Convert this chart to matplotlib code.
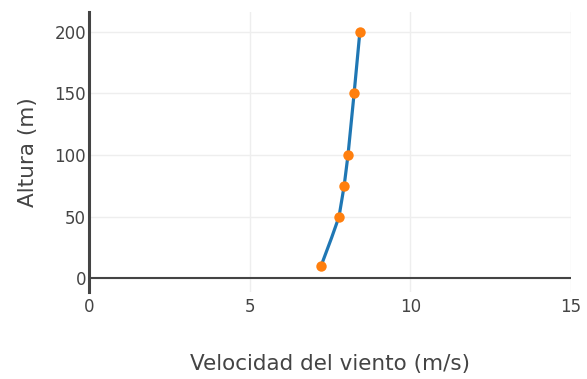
import numpy as np
import matplotlib.pyplot as plt

# datos
alturas = [10, 50, 75, 100, 150, 200]
velocidades = [7.22, 7.78, 7.94, 8.06, 8.25, 8.43]

# perfil (linea)
alturas_perfil = [10, 33, 50, 75, 100, 150, 200]
velocidades_perfil = [7.22, 7.55, 7.78, 7.94, 8.06, 8.25, 8.43]

xticks = [0, 5, 10, 15]
yticks = [0, 50, 100, 150, 200]

plt.rcParams['font.family'] = ['DejaVu Sans']

fig = plt.figure(figsize=(5.87, 3.79), dpi=100)
ax = fig.add_axes([89 / 587, 1 - 292 / 379, 482 / 587, 280 / 379])

ax.plot(velocidades_perfil, alturas_perfil, '-', color='#1f77b4', lw=2.3, zorder=3)
ax.plot(velocidades, alturas, 'o', color='#ff7f0e', ms=7.5, mec='none', zorder=4)

ax.set_xlim(0, 15)
ax.set_ylim(-11, 216)
ax.set_xticks(xticks)
ax.set_yticks(yticks)

ax.grid(True, color='#eeeeee', lw=1)
ax.set_axisbelow(True)
ax.axhline(0, color='#444444', lw=1.5, zorder=2)

for s in ['top', 'right', 'bottom']:
    ax.spines[s].set_visible(False)
ax.spines['left'].set_color('#444444')
ax.spines['left'].set_linewidth(2.2)

ax.tick_params(axis='both', length=0, labelsize=12, colors='#444444')
ax.tick_params(axis='y', pad=2)
ax.tick_params(axis='x', pad=4)

ax.set_xlabel('Velocidad del viento (m/s)', fontsize=15.5, color='#444444', labelpad=28)
ax.set_ylabel('Altura (m)', fontsize=15.5, color='#444444', labelpad=12)

fig.savefig('out.png', dpi=100)
